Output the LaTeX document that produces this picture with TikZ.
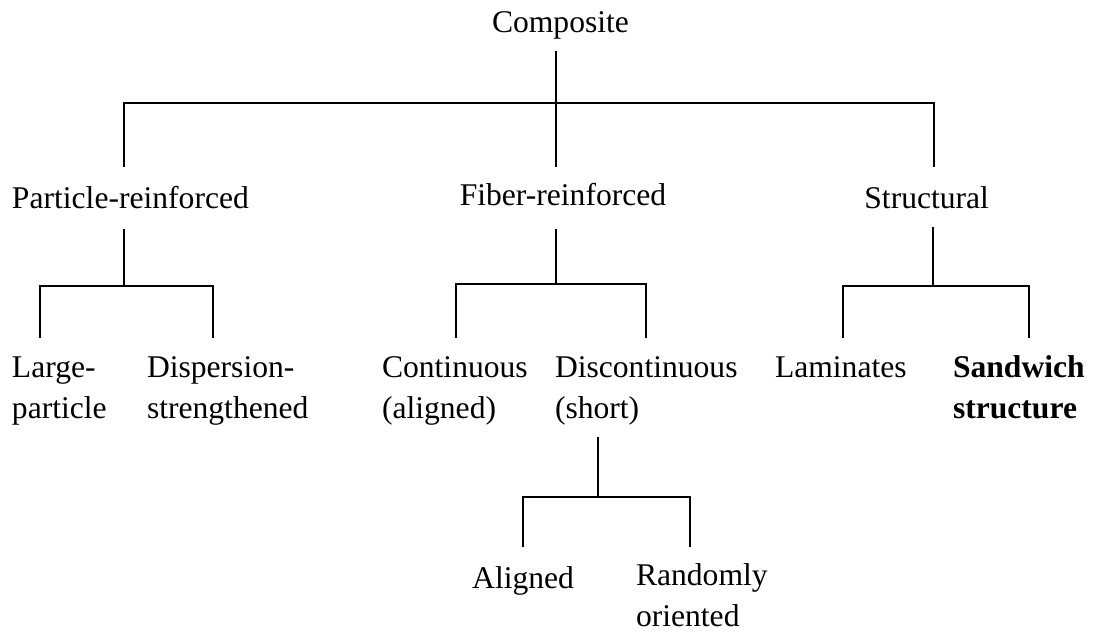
\documentclass[tikz,border=0pt]{standalone}
\usepackage{fontspec}
\setmainfont{Liberation Serif}
\begin{document}
\begin{tikzpicture}[x=1pt,y=-1pt,
  lbl/.style={inner sep=0pt,outer sep=0pt,font=\fontsize{31.6}{41}\selectfont},
  conn/.style={line width=1.6pt,line cap=rect}]
\useasboundingbox (0,0) rectangle (1095,632);
% labels
\node[lbl,anchor=base] (comp) at (560.5,32) {Composite};
\node[lbl,anchor=base west] (part) at (12,208) {Particle-reinforced};
\node[lbl,anchor=base] (fib) at (563,205) {Fiber-reinforced};
\node[lbl,anchor=base east] (str) at (989,208) {Structural};
\node[lbl,anchor=base west] (large) at (12,377) {\begin{tabular}[t]{@{}l@{}}Large-\\particle\end{tabular}};
\node[lbl,anchor=base west] (disp) at (147,377) {\begin{tabular}[t]{@{}l@{}}Dispersion-\\strengthened\end{tabular}};
\node[lbl,anchor=base west] (cont) at (382,377) {\begin{tabular}[t]{@{}l@{}}Continuous\\(aligned)\end{tabular}};
\node[lbl,anchor=base west] (disc) at (555,377) {\begin{tabular}[t]{@{}l@{}}Discontinuous\\(short)\end{tabular}};
\node[lbl,anchor=base west] (lam) at (775,377) {Laminates};
\node[lbl,anchor=base west] (sand) at (953,377) {\begin{tabular}[t]{@{}l@{}}\textbf{Sandwich}\\\textbf{structure}\end{tabular}};
\node[lbl,anchor=base east] (alig) at (574,588) {Aligned};
\node[lbl,anchor=base west] (rand) at (636,585) {\begin{tabular}[t]{@{}l@{}}Randomly\\oriented\end{tabular}};
% junction coordinates
\coordinate (c0) at (556,52);
\coordinate (c1) at (556,103);
\coordinate (cL) at (124,103);
\coordinate (cR) at (934,103);
\coordinate (pL) at (124,166);
\coordinate (pM) at (556,166);
\coordinate (pR) at (934,166);
% particle
\coordinate (p0) at (124,230);
\coordinate (p1) at (124,286);
\coordinate (pa) at (40,286);
\coordinate (pb) at (213,286);
\coordinate (pa2) at (40,337);
\coordinate (pb2) at (213,337);
% fiber
\coordinate (f0) at (556,230);
\coordinate (f1) at (556,284);
\coordinate (fa) at (456,284);
\coordinate (fb) at (646,284);
\coordinate (fa2) at (456,337);
\coordinate (fb2) at (646,337);
% structural
\coordinate (s0) at (933,228);
\coordinate (s1) at (933,286);
\coordinate (sa) at (843,286);
\coordinate (sb) at (1029,286);
\coordinate (sa2) at (843,337);
\coordinate (sb2) at (1029,337);
% discontinuous
\coordinate (d0) at (598,438);
\coordinate (d1) at (598,497);
\coordinate (da) at (523,497);
\coordinate (db) at (690,497);
\coordinate (da2) at (523,546);
\coordinate (db2) at (690,546);
% connectors
\draw[conn] (c0) -- (c1);
\draw[conn] (pL) -- (cL) -- (cR) -- (pR);
\draw[conn] (c1) -- (pM);
\draw[conn] (p0) -- (p1);
\draw[conn] (pa2) -- (pa) -- (pb) -- (pb2);
\draw[conn] (f0) -- (f1);
\draw[conn] (fa2) -- (fa) -- (fb) -- (fb2);
\draw[conn] (s0) -- (s1);
\draw[conn] (sa2) -- (sa) -- (sb) -- (sb2);
\draw[conn] (d0) -- (d1);
\draw[conn] (da2) -- (da) -- (db) -- (db2);
\end{tikzpicture}
\end{document}
